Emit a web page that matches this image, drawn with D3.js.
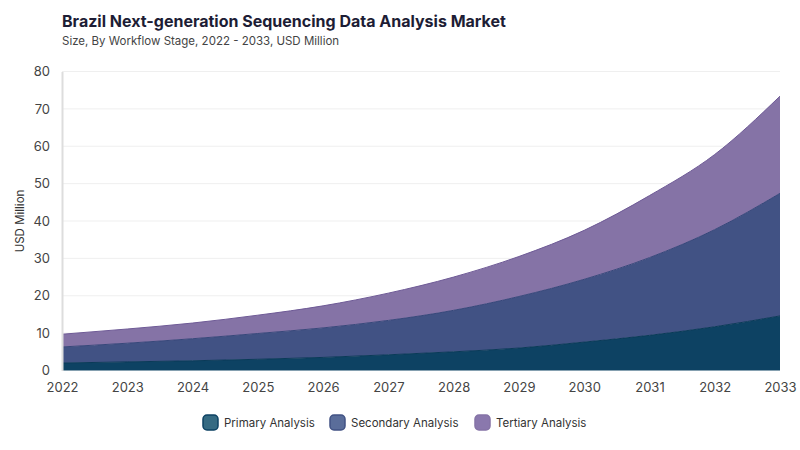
<!DOCTYPE html>
<html><head><meta charset="utf-8">
<script src="https://cdn.jsdelivr.net/npm/d3@7"></script>
<style>
body{margin:0;background:#fff;}
text{font-family:Inter,"DM Sans",sans-serif;}
</style></head>
<body><svg id="c" width="800" height="450"></svg>
<script>
const years = [2022,2023,2024,2025,2026,2027,2028,2029,2030,2031,2032,2033];
const primary   = [2.0, 2.3, 2.6, 3.0, 3.5, 4.2, 5.0, 6.0, 7.6, 9.4, 11.7, 14.6];
const secondary = [4.3, 5.0, 5.9, 6.9, 7.9, 9.2, 11.1, 13.8, 16.8, 20.8, 26.0, 32.8];
const tertiary  = [3.4, 3.8, 4.2, 4.9, 5.9, 7.3, 8.9, 10.7, 13.1, 16.6, 20.1, 26.0];
const seriesNames = ["Primary Analysis","Secondary Analysis","Tertiary Analysis"];
const yTicks = [0,10,20,30,40,50,60,70,80];

const fills = ["#0d4263","#415284","#8573a6"];
const strokes = ["#0a3a58","#37477a","#6e5a96"];
const legendFills = ["#356a82","#5a6d9a","#8a78ad"];

const svg = d3.select("#c");
const m = {l:62, r:20, t:71.5, b:79.5};
const W = 800, H = 450;
const x = d3.scaleLinear().domain([2022,2033]).range([m.l, W-m.r]);
const y = d3.scaleLinear().domain([0,80]).range([H-m.b, m.t]);

const data = years.map((yr,i)=>({year:yr, p:primary[i], s:secondary[i], t:tertiary[i]}));
const layers = d3.stack().keys(["p","s","t"])(data);

// gridlines
svg.append("g").selectAll("line").data(yTicks.filter(d=>d>0)).join("line")
  .attr("x1", m.l).attr("x2", W-m.r)
  .attr("y1", d=>y(d)).attr("y2", d=>y(d))
  .attr("stroke","#efefef").attr("stroke-width",1);

const area = d3.area().x(d=>x(d.data.year)).y0(d=>y(d[0])).y1(d=>y(d[1])).curve(d3.curveMonotoneX);
const line = d3.line().x(d=>x(d.data.year)).y(d=>y(d[1])).curve(d3.curveMonotoneX);

svg.append("g").selectAll("path").data(layers).join("path")
  .attr("d", area).attr("fill",(d,i)=>fills[i]);
svg.append("g").selectAll("path").data(layers).join("path")
  .attr("d", line).attr("fill","none").attr("stroke",(d,i)=>strokes[i]).attr("stroke-width",1);

// y axis
const yAx = svg.append("g").attr("transform",`translate(${m.l},0)`)
  .call(d3.axisLeft(y).tickValues(yTicks).tickSize(0).tickPadding(12));
yAx.select(".domain").attr("stroke","#dddddd").attr("stroke-width",2);
yAx.selectAll("text").attr("font-size",13).attr("fill","#444").attr("font-family","Inter,sans-serif");

// x axis
const xAx = svg.append("g").attr("transform",`translate(0,${H-m.b})`)
  .call(d3.axisBottom(x).tickValues(years).tickFormat(d3.format("d")).tickSize(0).tickPadding(12));
xAx.select(".domain").remove();
xAx.selectAll("text").attr("font-size",13).attr("fill","#444").attr("font-family","Inter,sans-serif");

// axis title
svg.append("text").attr("transform",`translate(24,${(m.t+H-m.b)/2}) rotate(-90)`)
  .attr("text-anchor","middle").attr("font-size",11.5).attr("fill","#333").text("USD Million");

// titles
svg.append("text").attr("x",62).attr("y",27).attr("font-size",16).attr("font-weight",700)
  .attr("fill","#1d1d35").text("Brazil Next-generation Sequencing Data Analysis Market");
svg.append("text").attr("x",62).attr("y",45).attr("font-size",11.5).attr("fill","#444")
  .text("Size, By Workflow Stage, 2022 - 2033, USD Million");

// legend
const legX = [203, 330, 475];
const lg = svg.append("g").selectAll("g").data(seriesNames).join("g")
  .attr("transform",(d,i)=>`translate(${legX[i]},415)`);
lg.append("rect").attr("width",15).attr("height",15).attr("rx",4)
  .attr("fill",(d,i)=>legendFills[i]).attr("stroke",(d,i)=>fills[i]).attr("stroke-width",1.5);
lg.append("text").attr("x",21).attr("y",12).attr("font-size",11.5).attr("fill","#333").text(d=>d);
</script></body></html>
